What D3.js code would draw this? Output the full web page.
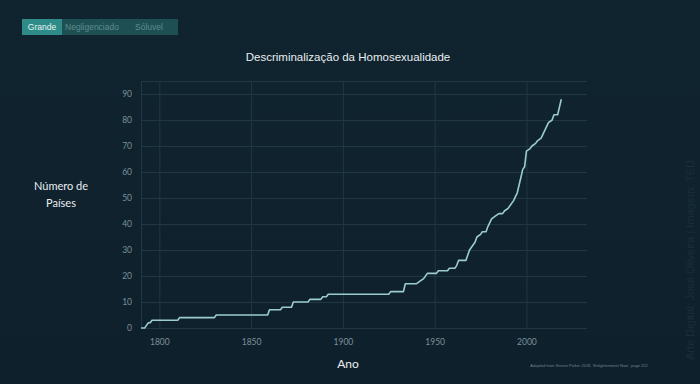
<!DOCTYPE html>
<html>
<head>
<meta charset="utf-8">
<script src="https://cdn.jsdelivr.net/npm/d3@7"></script>
<style>
  html, body { margin: 0; padding: 0; }
  body { width: 700px; height: 384px; overflow: hidden; background: #0f2330; }
  svg { display: block; font-family: "Liberation Sans", Arial, sans-serif; }
</style>
</head>
<body>
<svg id="viz" width="700" height="384"></svg>
<script>
// Countries that decriminalised homosexuality (cumulative)
var years  = [1790, 1792, 1793, 1794, 1795, 1796, 1810, 1811, 1830, 1831, 1859, 1860, 1866, 1867,
              1872, 1873, 1881, 1882, 1888, 1889, 1891, 1892, 1925, 1926, 1933, 1934, 1940, 1942,
              1944, 1946, 1951, 1952, 1957, 1958, 1961, 1962, 1963, 1967, 1968, 1969, 1971, 1972,
              1973, 1975, 1976, 1978, 1979, 1981, 1983, 1985, 1987, 1988, 1990, 1991, 1993, 1995,
              1997, 1998, 1999, 2000, 2002, 2003, 2005, 2006, 2008, 2010, 2012, 2014, 2015, 2017,
              2018, 2019];
var counts = [0, 0, 1, 2, 2, 3, 3, 4, 4, 5, 5, 7, 7, 8,
              8, 10, 10, 11, 11, 12, 12, 13, 13, 14, 14, 17, 17, 18,
              19, 21, 21, 22, 22, 23, 23, 24, 26, 26, 28, 30, 32, 33,
              35, 36, 37, 37, 39, 42, 43, 44, 44, 45, 46, 47, 49, 52,
              58, 61, 62, 68, 69, 70, 71, 72, 73, 76, 79, 80, 82, 82,
              85, 88];
var xTicks = [1800, 1850, 1900, 1950, 2000];
var yTicks = [0, 10, 20, 30, 40, 50, 60, 70, 80, 90];
var tabs = ["Grande", "Negligenciado", "Sóluvel"];

var data = years.map(function(y, i) { return {year: y, count: counts[i]}; });

var width = 700, height = 384;
var margin = {top: 81, right: 113, bottom: 56, left: 141};

var svg = d3.select("#viz");

var defs = svg.append("defs");
var grad = defs.append("linearGradient")
    .attr("id", "bg")
    .attr("x1", 0).attr("y1", 0).attr("x2", 0).attr("y2", 1);
grad.append("stop").attr("offset", "0%").attr("stop-color", "#10242f");
grad.append("stop").attr("offset", "100%").attr("stop-color", "#0e202c");

svg.append("rect")
    .attr("width", width)
    .attr("height", height)
    .attr("fill", "url(#bg)");

// tabs
var tab = svg.append("g");
tab.append("rect")
    .attr("x", 22).attr("y", 19)
    .attr("width", 156).attr("height", 16)
    .attr("fill", "#1d4f53");
tab.append("rect")
    .attr("x", 22).attr("y", 19)
    .attr("width", 40).attr("height", 16)
    .attr("fill", "#2e8c88");
tab.selectAll("text")
    .data(tabs)
    .enter()
    .append("text")
        .attr("x", (d, i) => [42, 92, 149][i])
        .attr("y", 27)
        .attr("dy", "0.35em")
        .attr("text-anchor", "middle")
        .attr("font-size", 8.5)
        .attr("fill", (d, i) => i == 0 ? "#e6f2f2" : "#5f8c8f")
        .text(d => d);

var x = d3.scaleLinear()
    .domain([1790, 2033])
    .range([margin.left, width - margin.right]);

var y = d3.scaleLinear()
    .domain([0, 95])
    .range([height - margin.bottom, margin.top]);

var grid = "#213844";

var yAxis = g => g
    .attr("transform", `translate(${margin.left},0)`)
    .call(d3.axisLeft(y)
        .tickValues(yTicks)
        .tickSize(-(width - margin.right - margin.left))
        .tickPadding(9)
        .tickFormat(d3.format("d")))
    .call(g => g.select(".domain").attr("stroke", grid))
    .call(g => g.selectAll(".tick line").attr("stroke", grid))
    .call(g => g.selectAll(".tick text")
        .attr("fill", "#7d9099")
        .attr("font-family", "Lato, sans-serif")
        .attr("font-size", 8.5));

var xAxis = g => g
    .attr("transform", `translate(0,${height - margin.bottom})`)
    .call(d3.axisBottom(x)
        .tickValues(xTicks)
        .tickSize(-(height - margin.bottom - margin.top))
        .tickPadding(11)
        .tickFormat(d3.format("d")))
    .call(g => g.select(".domain").remove())
    .call(g => g.selectAll(".tick line").attr("stroke", grid))
    .call(g => g.selectAll(".tick text")
        .attr("fill", "#7d9099")
        .attr("font-family", "Lato, sans-serif")
        .attr("font-size", 8.5));

svg.append("g").call(yAxis);
svg.append("g").call(xAxis);

var line = d3.line()
    .x(d => x(d.year))
    .y(d => y(d.count));

svg.append("path")
    .datum(data)
    .attr("fill", "none")
    .attr("stroke", "#9bcdd0")
    .attr("stroke-width", 1.6)
    .attr("stroke-linejoin", "round")
    .attr("d", line);

// titles
svg.append("text")
    .attr("x", 348)
    .attr("y", 61)
    .attr("text-anchor", "middle")
    .attr("font-size", 11.5)
    .attr("fill", "#e8eef0")
    .text("Descriminalização da Homosexualidade");

svg.append("text")
    .attr("x", 348)
    .attr("y", 368)
    .attr("text-anchor", "middle")
    .attr("font-family", "Lato, sans-serif")
    .attr("font-size", 12)
    .attr("fill", "#e8eef0")
    .text("Ano");

var ylab = svg.append("text")
    .attr("text-anchor", "middle")
    .attr("font-family", "Lato, sans-serif")
    .attr("font-size", 11)
    .attr("fill", "#e8eef0");
ylab.append("tspan").attr("x", 61).attr("y", 190).text("Número de");
ylab.append("tspan").attr("x", 61).attr("y", 207).text("Países");

// source note
svg.append("text")
    .attr("x", 589)
    .attr("y", 367)
    .attr("text-anchor", "middle")
    .attr("font-size", 4)
    .attr("fill", "#6e828b")
    .text("Adapted from Steven Pinker 2018, 'Enlightenment Now', page 222");

// watermark
svg.append("text")
    .attr("transform", "translate(694,160) rotate(-90)")
    .attr("text-anchor", "end")
    .attr("font-size", 11)
    .attr("fill", "#192f3c")
    .text("Arte Digital: José Oliveira | Imagem: TED");
</script>
</body>
</html>
